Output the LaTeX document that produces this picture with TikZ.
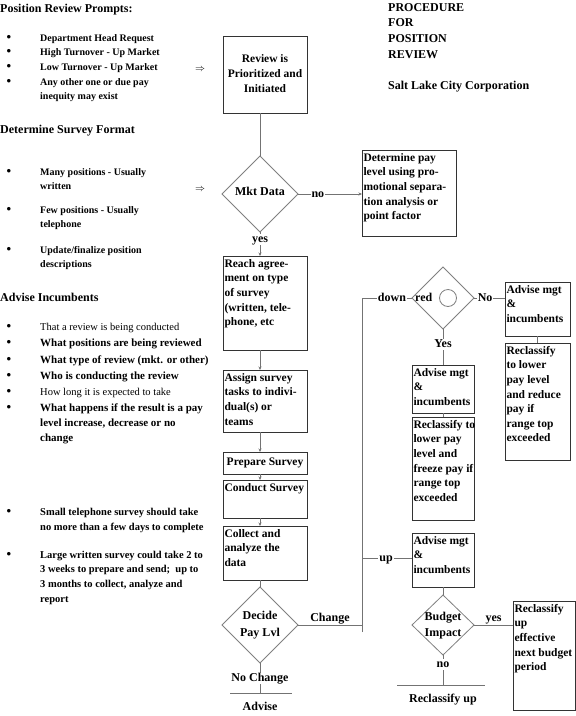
\documentclass[tikz,border=0pt]{standalone}
\usepackage{fontspec}
\setmainfont{Liberation Serif}
\usetikzlibrary{shapes.geometric,arrows.meta}
\newcommand\fntA{\bfseries\fontsize{10}{12}\selectfont}
\newcommand\fntR{\mdseries\fontsize{10.5}{12}\selectfont}
\newcommand\fntC{\bfseries\fontsize{11}{13}\selectfont}
\newcommand\fntD{\bfseries\fontsize{10.5}{12}\selectfont}
\newcommand\fntH{\bfseries\fontsize{12}{14}\selectfont}
\newcommand\fntB{\bfseries\fontsize{11.5}{14.6}\selectfont}
\newcommand\fntU{\bfseries\fontsize{13}{14}\selectfont}
% #1 name, #2 x1, #3 y1, #4 x2, #5 y2, #6 inner pos, #7 alignment cmd, #8 column, #9 text
\newcommand\fbx[9]{%
  \pgfmathsetmacro\bxw{#4-#2-3}%
  \pgfmathsetmacro\bxh{#5-#3-2}%
  \node[bx] (#1) at (#2,#3) {\parbox[t][\bxh pt][#6]{\bxw pt}{#7\begin{tabular}[t]{@{}#8@{}}#9\end{tabular}}};}
\begin{document}
\begin{tikzpicture}[x=1pt,y=-1pt,
  bx/.style={draw=black!80,line width=0.8pt,inner xsep=1.5pt,inner ysep=1pt,outer sep=0pt,anchor=north west,font=\fntB},
  dia/.style={draw=black!50,line width=0.8pt,diamond,inner sep=0pt,outer sep=0pt},
  con/.style={draw=black!55,line width=0.8pt},
  arr/.style={con,-{Stealth[length=3.5pt,width=3pt]}},
  lbl/.style={font=\fntH,inner sep=1pt,fill=white,text height=7.5pt,text depth=1.5pt},
  txt/.style={anchor=west,inner sep=0pt,text height=7.5pt,text depth=1.5pt},
  dtx/.style={font=\fntH,inner sep=0pt,text height=7.5pt,text depth=1.5pt},
  bul/.style={inner sep=0pt,font=\fntU}]
\fill[white] (0,0) rectangle (576,716);
\useasboundingbox (0,0) rectangle (576,716);

% ---------- left column ----------
\node[txt,font=\fntH] (h1) at (0,9) {Position Review Prompts:};
\node[bul] (b1) at (9,38) {\textbullet};
\node[txt,font=\fntA] (a1) at (40,38) {Department Head Request};
\node[bul] (b2) at (9,52) {\textbullet};
\node[txt,font=\fntA] (a2) at (40,52) {High Turnover - Up Market};
\node[bul] (b3) at (9,67) {\textbullet};
\node[txt,font=\fntA] (a3) at (40,67) {Low Turnover - Up Market};
\node[bul] (b4) at (9,82) {\textbullet};
\node[txt,font=\fntA] (a4) at (40,82) {Any other one or due pay};
\node[txt,font=\fntA] (a5) at (40,96) {inequity may exist};

\node[txt,font=\fntH] (h2) at (0,130) {Determine Survey Format};
\node[bul] (b5) at (9,172) {\textbullet};
\node[txt,font=\fntA] (s1) at (40,172) {Many positions - Usually};
\node[txt,font=\fntA] (s2) at (40,186) {written};
\node[bul] (b6) at (9,210) {\textbullet};
\node[txt,font=\fntA] (s3) at (40,210) {Few positions - Usually};
\node[txt,font=\fntA] (s4) at (40,224) {telephone};
\node[bul] (b7) at (9,250) {\textbullet};
\node[txt,font=\fntA] (s5) at (40,250) {Update/finalize position};
\node[txt,font=\fntA] (s6) at (40,264) {descriptions};

\node[txt,font=\fntH] (h3) at (0,298) {Advise Incumbents};
\node[bul] (b8) at (9,327) {\textbullet};
\node[txt,font=\fntR] (c1) at (40,327) {That a review is being conducted};
\node[bul] (b9) at (9,343) {\textbullet};
\node[txt,font=\fntC] (c2) at (40,343) {What positions are being reviewed};
\node[bul] (b10) at (9,360) {\textbullet};
\node[txt,font=\fntC] (c3) at (40,360) {What type of review (mkt. or other)};
\node[bul] (b11) at (9,376) {\textbullet};
\node[txt,font=\fntC] (c4) at (40,376) {Who is conducting the review};
\node[bul] (b12) at (9,392) {\textbullet};
\node[txt,font=\fntR] (c5) at (40,392) {How long it is expected to take};
\node[bul] (b13) at (9,408) {\textbullet};
\node[txt,font=\fntC] (c6) at (40,408) {What happens if the result is a pay};
\node[txt,font=\fntC] (c7) at (40,423) {level increase, decrease or no};
\node[txt,font=\fntC] (c8) at (40,438) {change};

\node[bul] (b14) at (9,512) {\textbullet};
\node[txt,font=\fntD] (d1) at (40,512) {Small telephone survey should take};
\node[txt,font=\fntD] (d2) at (40,527) {no more than a few days to complete};
\node[bul] (b15) at (9,555) {\textbullet};
\node[txt,font=\fntD] (d3) at (40,555) {Large written survey could take 2 to};
\node[txt,font=\fntD] (d4) at (40,569) {3 weeks to prepare and send;\ \ up to};
\node[txt,font=\fntD] (d5) at (40,584) {3 months to collect, analyze and};
\node[txt,font=\fntD] (d6) at (40,599) {report};

\node[inner sep=0pt] (ar1) at (200,70) {$\Rightarrow$};
\node[inner sep=0pt] (ar2) at (200,190) {$\Rightarrow$};

% ---------- title ----------
\node[txt,font=\fntH] (t1) at (388,8) {PROCEDURE};
\node[txt,font=\fntH] (t2) at (388,23) {FOR};
\node[txt,font=\fntH] (t3) at (388,39) {POSITION};
\node[txt,font=\fntH] (t4) at (388,55) {REVIEW};
\node[txt,font=\fntH] (t5) at (388,86) {Salt Lake City Corporation};

% ---------- boxes ----------
\fbx{rev}{223}{36}{307}{113}{c}{\centering}{c}{Review is\\Prioritized and\\Initiated}
\fbx{det}{362}{150}{456}{236}{t}{}{l}{Determine pay\\level using pro-\\motional separa-\\tion analysis or\\point factor}
\fbx{reach}{223}{256}{307}{350}{t}{}{l}{Reach agree-\\ment on type\\of survey\\(written, tele-\\phone, etc}
\fbx{assign}{223}{370}{307}{432}{t}{}{l}{Assign survey\\tasks to indivi-\\dual(s) or\\teams}
\fbx{prep}{223}{452}{307}{474}{c}{\centering}{c}{Prepare Survey}
\fbx{cond}{223}{480}{307}{518}{t}{}{l}{Conduct Survey}
\fbx{coll}{223}{526}{307}{580}{t}{}{l}{Collect and\\analyze the\\data}
\fbx{adv2}{505}{282}{570}{336}{t}{}{l}{Advise mgt\\\&\\incumbents}
\fbx{rec2}{505}{343}{570}{460}{t}{}{l}{Reclassify\\to lower\\pay level\\and reduce\\pay if\\range top\\exceeded}
\fbx{adv1}{412}{365}{474}{413}{t}{}{l}{Advise mgt\\\&\\incumbents}
\fbx{rec1}{412}{417}{474}{520}{t}{}{l}{Reclassify to\\lower pay\\level and\\freeze pay if\\range top\\exceeded}
\fbx{adv3}{412}{533}{474}{587}{t}{}{l}{Advise mgt\\\&\\incumbents}
\fbx{recup}{513}{601}{575}{710}{t}{}{l}{Reclassify\\up\\effective\\next budget\\period}

% ---------- diamonds ----------
\node[dia,minimum width=76pt,minimum height=76pt] (mkt) at (260,194) {};
\node[dtx] (mktt) at (260,192) {Mkt Data};
\node[dia,minimum width=62pt,minimum height=62pt] (red) at (443,298) {};
\node[dtx,anchor=west] (redt) at (415,298) {red};
\node[circle,draw=black!50,line width=0.8pt,minimum size=17pt,inner sep=0pt] (redc) at (448,298) {};
\node[dia,minimum width=76pt,minimum height=76pt] (decide) at (260,625) {};
\node[dtx] (dect1) at (260,616) {Decide};
\node[dtx] (dect2) at (260,633) {Pay Lvl};
\node[dia,minimum width=62pt,minimum height=60pt] (budget) at (443,625) {};
\node[dtx] (bt1) at (443,617) {Budget};
\node[dtx] (bt2) at (443,633) {Impact};

% ---------- connector coordinates ----------
\coordinate (cc) at (362,625);
\coordinate (ct) at (362,298);
\coordinate (cb) at (362,632);
\coordinate (cu) at (362,558);
\coordinate (nce) at (260,693);
\coordinate (ncl) at (230,693);
\coordinate (ncr) at (292,693);
\coordinate (nbe) at (443,685);
\coordinate (nbl) at (397,685);
\coordinate (nbr) at (485,685);

% ---------- connectors ----------
\draw[con] (mkt.north |- rev.south) -- (mkt.north);
\draw[arr] (mkt.east) -- node[lbl,pos=0.31]{no} (det.west |- mkt.east);
\draw[arr] (mkt.south) -- node[lbl,pos=0.33]{yes} (mkt.south |- reach.north);
\draw[arr] (mkt.south |- reach.south) -- (mkt.south |- assign.north);
\draw[arr] (mkt.south |- assign.south) -- (mkt.south |- prep.north);
\draw[arr] (mkt.south |- prep.south) -- (mkt.south |- cond.north);
\draw[arr] (mkt.south |- cond.south) -- (mkt.south |- coll.north);
\draw[con] (mkt.south |- coll.south) -- (decide.north);

\draw[con] (decide.east) -- node[lbl,fill=none,anchor=south,inner sep=1.5pt]{Change} (cc);
\draw[con] (cb) -- (ct) -- node[lbl,pos=0.6]{down} (red.west);
\draw[con] (cu) -- node[lbl,pos=0.48]{up} (adv3.west |- cu);

\draw[con] (red.south) -- node[lbl,pos=0.42]{Yes} (red.south |- adv1.north);
\draw[con] (adv1.south) -- (rec1.north);
\draw[con] (red.east) -- node[lbl,pos=0.36]{No} (adv2.west |- red.east);
\draw[con] (adv2.south) -- (rec2.north);

\draw[con] (adv3.south) -- (budget.north);
\draw[con] (budget.east) -- node[lbl,fill=none,anchor=south,inner sep=1.5pt]{yes} (recup.west |- budget.east);
\draw[con] (budget.south) -- node[lbl,pos=0.3]{no} (nbe);
\draw[con] (nbl) -- (nbr);
\node[dtx] (rup) at (443,699) {Reclassify up};

\draw[con] (decide.south) -- node[lbl,pos=0.5]{No Change} (nce);
\draw[con] (ncl) -- (ncr);
\node[dtx] (advb) at (260,707) {Advise};
\end{tikzpicture}
\end{document}
